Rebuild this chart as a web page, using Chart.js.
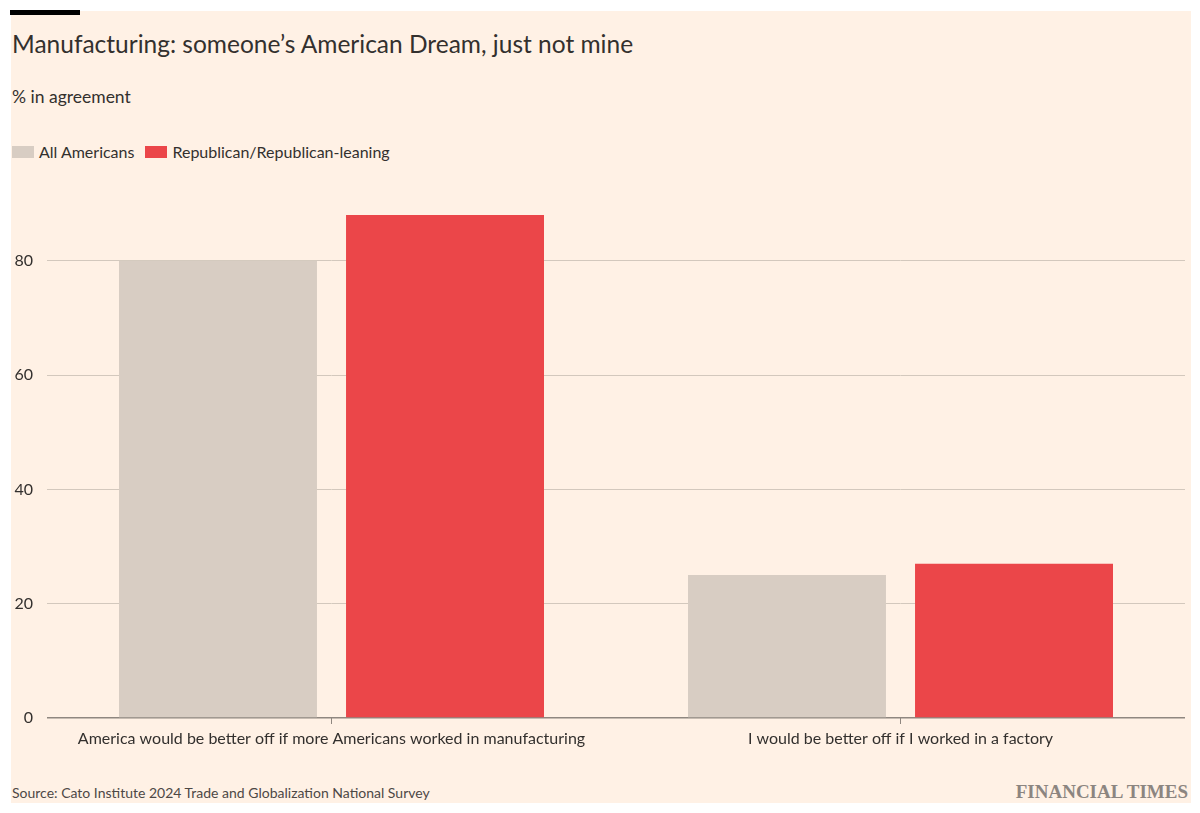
<!DOCTYPE html>
<html>
<head>
<meta charset="utf-8">
<script src="https://cdn.jsdelivr.net/npm/chart.js@4.4.1/dist/chart.umd.min.js"></script>
<style>
    body { margin: 0; background: #fff; width: 1200px; height: 813px; overflow: hidden; font-family: Lato, sans-serif; color: #33302e; }
    .panel { position: absolute; left: 11px; top: 11px; width: 1180px; height: 792px; background: #fff1e5; }
    .topbar { position: absolute; left: 10px; top: 10px; width: 70px; height: 5px; background: #000; }
    .title { position: absolute; left: 12px; top: 29px; font-size: 24.5px; color: #33302e; }
    .subtitle { position: absolute; left: 12px; top: 86px; font-size: 17.5px; color: #33302e; }
    .legend { position: absolute; left: 12px; top: 142px; font-size: 16px; color: #33302e; display: flex; align-items: center; }
    .legend span.sw { display: inline-block; width: 22px; height: 12px; margin-right: 5px; }
    .legend span.lab { margin-right: 11px; }
    .source { position: absolute; left: 12px; top: 784px; font-size: 14px; color: #4d4845; }
    .ft { position: absolute; right: 12px; top: 781px; font-family: "Liberation Serif", serif; font-weight: bold; font-size: 19px; color: #8c8580; }
    #wrap { position: absolute; left: 0; top: 180px; width: 1200px; height: 580px; }
</style>
</head>
<body>
<div class="panel"></div>
<div class="topbar"></div>
<div class="title">Manufacturing: someone’s American Dream, just not mine</div>
<div class="subtitle">% in agreement</div>
<div class="legend" id="legend"></div>
<div class="source">Source: Cato Institute 2024 Trade and Globalization National Survey</div>
<div class="ft">FINANCIAL TIMES</div>
<div id="wrap"><canvas id="chart"></canvas></div>
<script>
// Survey data
const categories = [
    'America would be better off if more Americans worked in manufacturing',
    'I would be better off if I worked in a factory'
];
const seriesNames = ['All Americans', 'Republican/Republican-leaning'];
const allAmericans = [80, 25];
const republicans = [88, 27];
const yTicks = [0, 20, 40, 60, 80];

const colors = ['#d8cdc3', '#eb4649'];

// --- Legend ---
const legendEl = document.getElementById('legend');
seriesNames.forEach((name, i) => {
    legendEl.innerHTML += `<span class="sw" style="background:${colors[i]}"></span><span class="lab">${name}</span>`;
});

// --- Chart ---
const ctx = document.getElementById('chart').getContext('2d');

new Chart(ctx, {
    type: 'bar',
    data: {
        labels: categories,
        datasets: [
            { label: seriesNames[0], data: allAmericans, backgroundColor: colors[0], categoryPercentage: 0.798, barPercentage: 0.872 },
            { label: seriesNames[1], data: republicans, backgroundColor: colors[1], categoryPercentage: 0.798, barPercentage: 0.872 }
        ]
    },
    options: {
        responsive: true,
        maintainAspectRatio: false,
        animation: false,
        layout: { padding: { left: 0, right: 15, top: 16, bottom: 0 } },
        plugins: { legend: { display: false }, tooltip: { enabled: false } },
        scales: {
            x: {
                border: { display: false },
                grid: { offset: false, drawOnChartArea: false, drawTicks: true, tickLength: 6, color: '#8f8780' },
                ticks: { color: '#33302e', font: { family: 'Lato', size: 16 }, padding: 5, maxRotation: 0 },
                afterFit: (scale) => { scale.height = 42; }
            },
            y: {
                min: 0,
                max: 90,
                border: { display: false },
                afterBuildTicks: (scale) => { scale.ticks = yTicks.map(v => ({ value: v })); },
                grid: {
                    drawTicks: false,
                    color: (c) => c.tick && c.tick.value === 0 ? '#8f8780' : '#d3c8bd',
                    lineWidth: (c) => c.tick && c.tick.value === 0 ? 1.5 : 1
                },
                ticks: { color: '#33302e', font: { family: 'Lato', size: 16 }, padding: 14 },
                afterFit: (scale) => { scale.width = 47; }
            }
        }
    }
});
</script>
</body>
</html>
